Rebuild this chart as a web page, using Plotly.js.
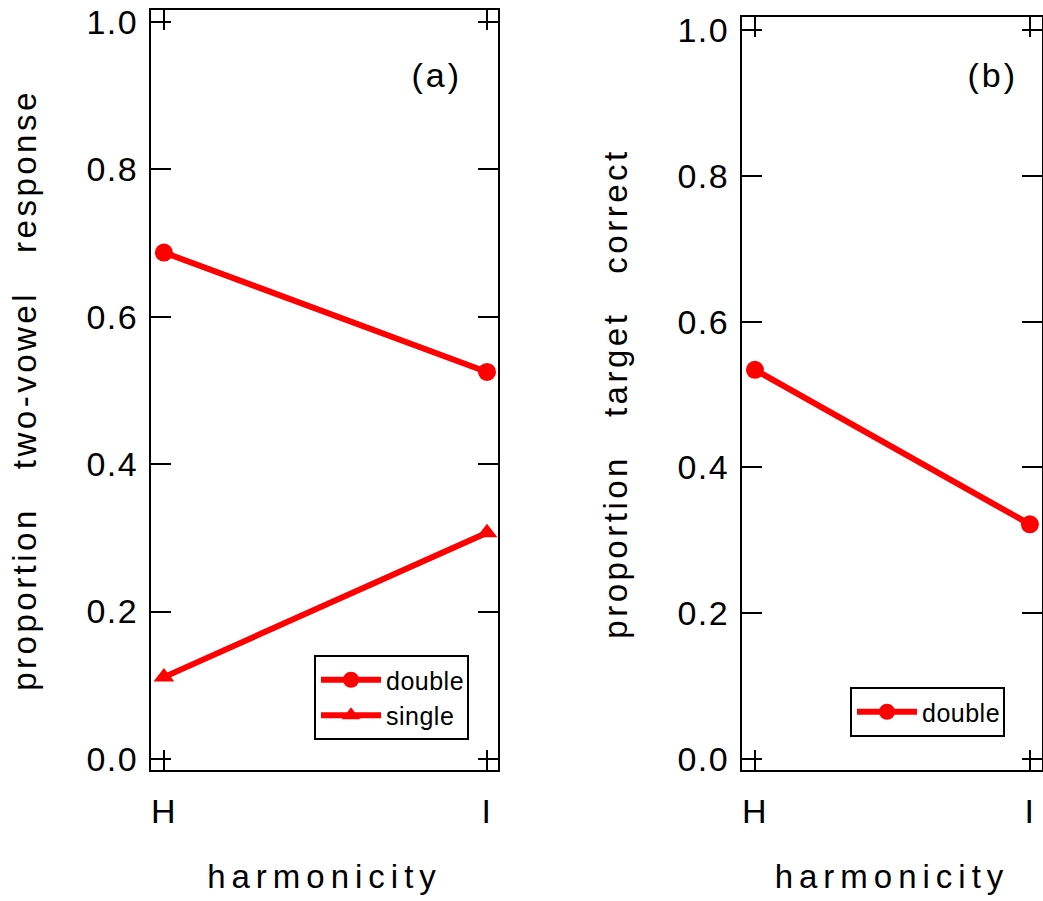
<!DOCTYPE html>
<html>
<head>
<meta charset="utf-8">
<script src="https://cdn.plot.ly/plotly-3.0.1.min.js"></script>
<style>
  html, body { margin: 0; padding: 0; background: #fff; }
  #chart { width: 1043px; height: 901px; }
  .main-svg text { letter-spacing: 1.5px; }
  .main-svg .annotation text { letter-spacing: 3px; }
  .main-svg .legend text, .main-svg .legend2 text { letter-spacing: 0.5px; }
  .main-svg .g-xtitle text, .main-svg .g-x2title text { letter-spacing: 6px; }
  .main-svg .g-ytitle text, .main-svg .g-y2title text { letter-spacing: 3.5px; }
</style>
</head>
<body>
<div id="chart"></div>
<script>
// ---- data ----
const categories = ['H', 'I'];
const panelA_double = [0.687, 0.525];
const panelA_single = [0.111, 0.307];
const panelB_double = [0.534, 0.322];
const yTickVals = [0.0, 0.2, 0.4, 0.6, 0.8, 1.0];
const yTickText = ['0.0', '0.2', '0.4', '0.6', '0.8', '1.0'];
const xTitle = 'harmonicity';
const yTitleA = 'proportion\u00a0\u00a0\u00a0two-vowel\u00a0\u00a0\u00a0response';
const yTitleB = 'proportion\u00a0\u00a0\u00a0target\u00a0\u00a0\u00a0correct';

const RED = '#ff0000';
const FONT = 'Liberation Sans, Arial, Helvetica, sans-serif';
const xIdx = categories.map((c, i) => i);

const traces = [
  { x: xIdx, y: panelA_double, name: 'double', type: 'scatter', mode: 'lines+markers',
    xaxis: 'x', yaxis: 'y', legend: 'legend',
    line: { color: RED, width: 6 }, marker: { color: RED, size: 18, symbol: 'circle' } },
  { x: xIdx, y: panelA_single, name: 'single', type: 'scatter', mode: 'lines+markers',
    xaxis: 'x', yaxis: 'y', legend: 'legend',
    line: { color: RED, width: 6 }, marker: { color: RED, size: 18, symbol: 'triangle-up' } },
  { x: xIdx, y: panelB_double, name: 'double', type: 'scatter', mode: 'lines+markers',
    xaxis: 'x2', yaxis: 'y2', legend: 'legend2',
    line: { color: RED, width: 6 }, marker: { color: RED, size: 18, symbol: 'circle' } }
];

function xAxis(domain, anchor, range) {
  return {
    domain: domain, anchor: anchor, range: range,
    tickmode: 'array', tickvals: xIdx, ticktext: categories,
    ticks: 'inside', ticklen: 20, tickwidth: 2, tickcolor: '#000',
    showline: true, linewidth: 2, linecolor: '#000', mirror: 'allticks',
    showgrid: false, zeroline: false,
    ticklabelstandoff: 10,
    tickfont: { family: FONT, size: 34, color: '#000' },
    title: { text: xTitle, font: { family: FONT, size: 33, color: '#000' }, standoff: 36 },
    automargin: false
  };
}
function yAxis(domain, anchor, range, title) {
  return {
    domain: domain, anchor: anchor, range: range,
    tickmode: 'array', tickvals: yTickVals, ticktext: yTickText,
    ticks: 'inside', ticklen: 20, tickwidth: 2, tickcolor: '#000',
    showline: true, linewidth: 2, linecolor: '#000', mirror: 'allticks',
    showgrid: false, zeroline: false,
    ticklabelstandoff: 4,
    tickfont: { family: FONT, size: 34, color: '#000' },
    title: { text: title, font: { family: FONT, size: 33, color: '#000' }, standoff: 44 },
    automargin: false
  };
}

const layout = {
  width: 1043, height: 901,
  margin: { l: 0, r: 0, t: 0, b: 0 },
  paper_bgcolor: '#fff', plot_bgcolor: '#fff',
  showlegend: true,
  xaxis: xAxis([151/1043, 498/1043], 'y', [-0.04, 1.034]),
  yaxis: yAxis([131/901, 891/901], 'x', [-0.015, 1.016], yTitleA),
  xaxis2: xAxis([742/1043, 1042/1043], 'y2', [-0.047, 1.044]),
  yaxis2: yAxis([131/901, 884/901], 'x2', [-0.015, 1.018], yTitleB),
  legend: {
    x: 469/1043, xanchor: 'right', y: (901-655)/901, yanchor: 'top',
    bgcolor: '#fff', bordercolor: '#000', borderwidth: 2, itemwidth: 60,
    font: { family: FONT, size: 25, color: '#000' }, tracegroupgap: 0
  },
  legend2: {
    x: 1005/1043, xanchor: 'right', y: (901-687)/901, yanchor: 'top',
    bgcolor: '#fff', bordercolor: '#000', borderwidth: 2, itemwidth: 60,
    font: { family: FONT, size: 25, color: '#000' }
  },
  annotations: [
    { text: '(a)', xref: 'paper', yref: 'paper', x: 437/1043, y: (901-75)/901,
      xanchor: 'center', yanchor: 'middle', showarrow: false,
      font: { family: FONT, size: 34, color: '#000' } },
    { text: '(b)', xref: 'paper', yref: 'paper', x: 993/1043, y: (901-75)/901,
      xanchor: 'center', yanchor: 'middle', showarrow: false,
      font: { family: FONT, size: 34, color: '#000' } }
  ]
};

Plotly.newPlot('chart', traces, layout, { displayModeBar: false, staticPlot: true });
</script>
</body>
</html>
